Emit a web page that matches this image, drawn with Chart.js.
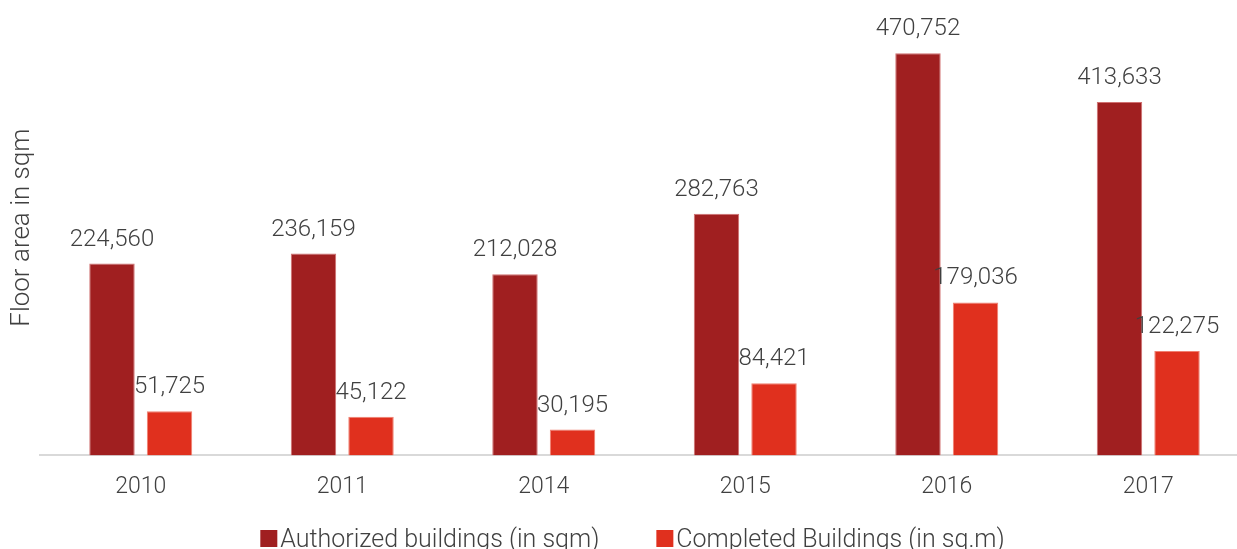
<!DOCTYPE html>
<html>
<head>
<meta charset="utf-8">
<script src="https://cdn.jsdelivr.net/npm/chart.js@4.4.0/dist/chart.umd.min.js"></script>
<style>
    html, body { margin: 0; padding: 0; background: #fff; overflow: hidden; }
    #wrap { width: 1249px; height: 549px; position: relative; }
</style>
</head>
<body>
<div id="wrap"><canvas id="mainChart"></canvas></div>
<script>
const years = ['2010', '2011', '2014', '2015', '2016', '2017'];
const authorized = [224560, 236159, 212028, 282763, 470752, 413633];
const completed = [51725, 45122, 30195, 84421, 179036, 122275];

// Value labels above each bar
const barLabels = {
    id: 'barLabels',
    afterDatasetsDraw(chart) {
        const ctx = chart.ctx;
        ctx.save();
        ctx.font = '300 24px Roboto';
        ctx.fillStyle = '#404040';
        ctx.textAlign = 'center';
        ctx.textBaseline = 'bottom';
        chart.data.datasets.forEach((ds, i) => {
            chart.getDatasetMeta(i).data.forEach((bar, j) => {
                ctx.fillText(ds.data[j].toLocaleString('en-US'), bar.x, bar.y - 12);
            });
        });
        ctx.restore();
    }
};

// Bottom legend (built-in one ties item gap to vertical padding)
const bottomLegend = {
    id: 'bottomLegend',
    afterDraw(chart) {
        const ctx = chart.ctx;
        const box = 17, gap = 3, spacing = 57;
        ctx.save();
        ctx.font = '300 25px Roboto';
        const items = chart.data.datasets.map(ds => ({
            text: ds.label,
            color: ds.backgroundColor,
            w: box + gap + ctx.measureText(ds.label).width
        }));
        const total = items.reduce((s, it) => s + it.w, 0) + spacing * (items.length - 1);
        let x = chart.width / 2 + 8 - total / 2;
        const baseY = chart.height - 2;
        items.forEach(it => {
            ctx.fillStyle = it.color;
            ctx.fillRect(x, baseY - 17, box, box);
            ctx.fillStyle = '#404040';
            ctx.textAlign = 'left';
            ctx.textBaseline = 'alphabetic';
            ctx.fillText(it.text, x + box + gap, baseY);
            x += it.w + spacing;
        });
        ctx.restore();
    }
};

const ctx = document.getElementById('mainChart').getContext('2d');
new Chart(ctx, {
    type: 'bar',
    data: {
        labels: years,
        datasets: [{
            label: 'Authorized buildings (in sqm)',
            data: authorized,
            backgroundColor: '#A01F20',
            borderColor: '#D07070',
            borderWidth: 1,
            categoryPercentage: 0.571,
            barPercentage: 0.79
        }, {
            label: 'Completed Buildings (in sq.m)',
            data: completed,
            backgroundColor: '#E0301E',
            borderColor: '#F08070',
            borderWidth: 1,
            categoryPercentage: 0.571,
            barPercentage: 0.79
        }]
    },
    options: {
        responsive: true,
        maintainAspectRatio: false,
        animation: false,
        layout: { padding: { top: 0, right: 0, left: 0, bottom: 38 } },
        plugins: {
            legend: { display: false },
            tooltip: { enabled: false }
        },
        scales: {
            x: {
                grid: { display: false },
                border: { color: '#d9d9d9', width: 2 },
                ticks: {
                    color: '#404040',
                    font: { family: 'Roboto', size: 23, weight: '300' },
                    padding: 10
                }
            },
            y: {
                min: 0,
                max: 533000,
                grid: { display: false, drawTicks: false },
                border: { display: false },
                ticks: { display: false, padding: 0 },
                title: {
                    display: true,
                    text: 'Floor area in sqm',
                    color: '#404040',
                    font: { family: 'Roboto', size: 26, weight: '300', lineHeight: 1 },
                    padding: { top: 9, bottom: 5 }
                }
            }
        }
    },
    plugins: [barLabels, bottomLegend]
});
</script>
</body>
</html>
